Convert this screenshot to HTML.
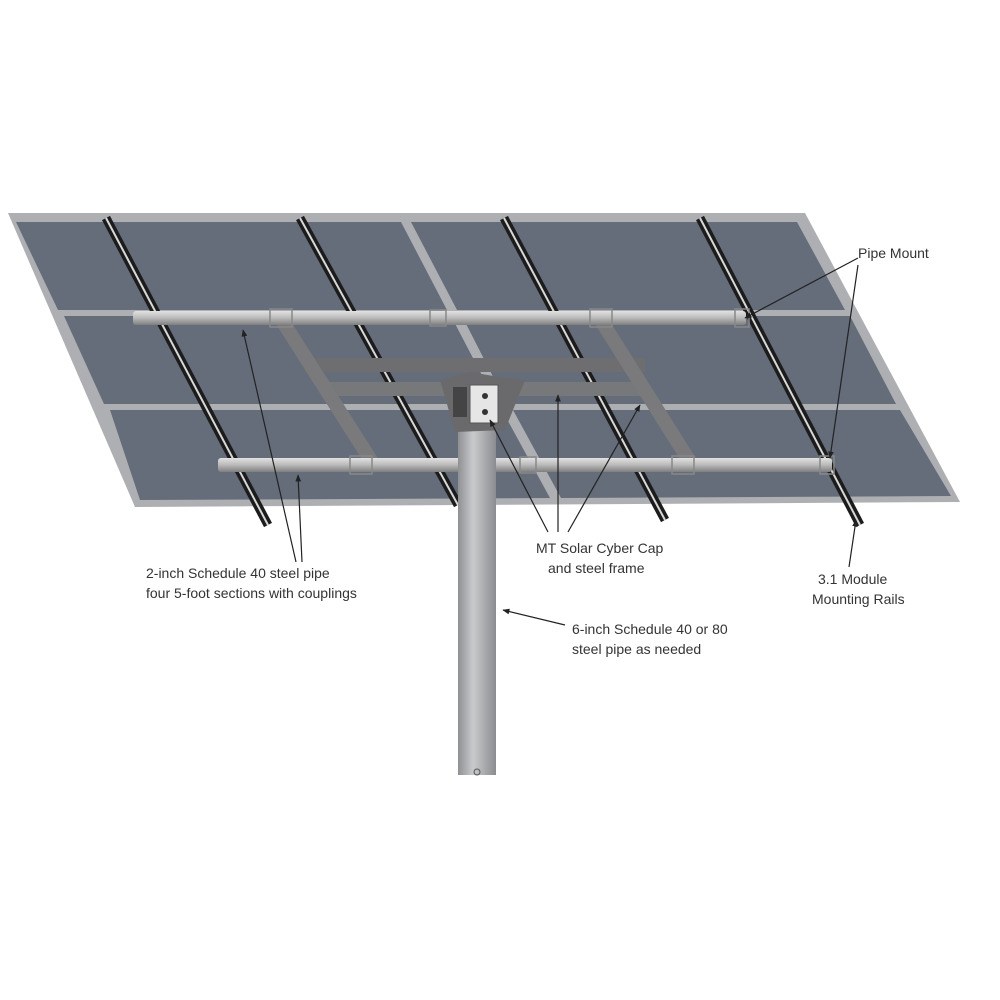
<!DOCTYPE html>
<html><head><meta charset="utf-8"><style>
html,body{margin:0;padding:0;background:#fff}
svg{display:block}
text{font-family:"Liberation Sans",sans-serif;font-size:14px;fill:#333}
</style></head><body>
<svg width="1000" height="1000" viewBox="0 0 1000 1000">
<defs>
<linearGradient id="post" x1="0" x2="1"><stop offset="0" stop-color="#8e9093"/><stop offset="0.4" stop-color="#c9cacc"/><stop offset="1" stop-color="#8a8c8f"/></linearGradient>
<linearGradient id="pipe" x1="0" y1="0" x2="0" y2="1"><stop offset="0" stop-color="#e2e2e2"/><stop offset="0.5" stop-color="#b9b9b9"/><stop offset="1" stop-color="#7f7f7f"/></linearGradient>
<marker id="ar" viewBox="0 0 10 10" refX="9" refY="5" markerWidth="6" markerHeight="6" orient="auto"><path d="M0,1 L10,5 L0,9 z" fill="#222"/></marker>
</defs>
<polygon points="8,213 805,213 960,502 135,507" fill="#aeafb2"/>
<g fill="#656d7a">
<polygon points="16,222 401,222 447,310 58,310"/>
<polygon points="411,222 797,222 845,310 457,310"/>
<polygon points="64,316 451,316 497,404 104,404"/>
<polygon points="462,316 850,316 896,404 507,404"/>
<polygon points="110,410 502,410 550,498 140,500"/>
<polygon points="513,410 900,410 951,496 561,498"/>
</g>
<g stroke-linecap="butt">
<g stroke="#1c1c1c" stroke-width="9">
<line x1="106" y1="218" x2="268" y2="525"/>
<line x1="300" y1="218" x2="458" y2="505"/>
<line x1="504" y1="218" x2="665" y2="520"/>
<line x1="700" y1="218" x2="860" y2="525"/>
</g>
<g stroke="#d8d8d8" stroke-width="2">
<line x1="106" y1="218" x2="268" y2="525"/>
<line x1="300" y1="218" x2="458" y2="505"/>
<line x1="504" y1="218" x2="665" y2="520"/>
<line x1="700" y1="218" x2="860" y2="525"/>
</g>
</g>
<rect x="305" y="358" width="340" height="14" fill="#6e6e70"/>
<rect x="325" y="382" width="320" height="14" fill="#77787a"/>
<g stroke="#7a7a7c" stroke-width="14">
<line x1="283" y1="322" x2="372" y2="462"/>
<line x1="602" y1="322" x2="690" y2="462"/>
</g>
<rect x="133" y="311" width="613" height="14" rx="3" fill="url(#pipe)"/>
<rect x="218" y="458" width="614" height="14" rx="3" fill="url(#pipe)"/>
<g fill="none" stroke="#888" stroke-width="1.5">
<rect x="270" y="309" width="22" height="18"/><rect x="430" y="310" width="16" height="16"/><rect x="590" y="309" width="22" height="18"/><rect x="735" y="309" width="14" height="18"/>
<rect x="350" y="456" width="22" height="18"/><rect x="520" y="457" width="16" height="16"/><rect x="672" y="456" width="22" height="18"/><rect x="820" y="456" width="14" height="18"/>
</g>
<rect x="458" y="420" width="38" height="355" fill="url(#post)"/>
<circle cx="477" cy="772" r="3" fill="none" stroke="#555"/>
<polygon points="440,380 470,372 505,378 525,380 505,430 455,432" fill="#6a6a6c"/>
<rect x="470" y="385" width="28" height="38" fill="#e6e6e6" stroke="#555"/>
<circle cx="485" cy="396" r="3" fill="#333"/><circle cx="485" cy="412" r="3" fill="#333"/>
<rect x="453" y="387" width="14" height="30" fill="#444"/>
<g stroke="#222" stroke-width="1.2" fill="none" marker-end="url(#ar)">
<line x1="858" y1="258" x2="745" y2="318"/>
<line x1="858" y1="265" x2="830" y2="458"/>
<line x1="849" y1="567" x2="856" y2="520"/>
<line x1="296" y1="562" x2="243" y2="330"/>
<line x1="302" y1="562" x2="298" y2="475"/>
<line x1="548" y1="532" x2="490" y2="420"/>
<line x1="558" y1="532" x2="558" y2="395"/>
<line x1="568" y1="532" x2="640" y2="405"/>
<line x1="565" y1="625" x2="503" y2="610"/>
</g>
<text x="858" y="258">Pipe Mount</text>
<text x="146" y="578">2-inch Schedule 40 steel pipe</text>
<text x="146" y="598">four 5-foot sections with couplings</text>
<text x="536" y="553">MT Solar Cyber Cap</text>
<text x="548" y="573">and steel frame</text>
<text x="818" y="584">3.1 Module</text>
<text x="812" y="604">Mounting Rails</text>
<text x="572" y="634">6-inch Schedule 40 or 80</text>
<text x="572" y="654">steel pipe as needed</text>
</svg>
</body></html>
